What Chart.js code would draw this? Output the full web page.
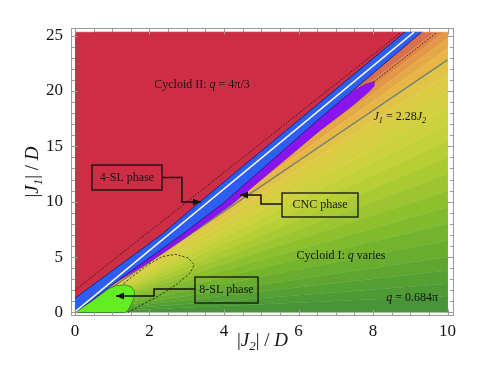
<!DOCTYPE html>
<html><head><meta charset="utf-8">
<script src="https://cdn.jsdelivr.net/npm/chart.js@4.4.1/dist/chart.umd.min.js"></script>
<style>html,body{margin:0;padding:0;background:#fff;}#wrap{width:485px;height:374px;position:relative;}</style>
</head><body><div id="wrap"><canvas id="c"></canvas></div>
<script>
// ---- data (J2/D, J1/D) ----
const xTicks = [0, 2, 4, 6, 8, 10];
const yTicks = [0, 5, 10, 15, 20, 25];
const X_MAX = 10, Y_MAX = 25.3;

const blueUpper = [[0,1.3],[2.33,7.05],[3.31,9.86],[8.85,25.3]];
const blueLower = [[0,0],[0.5,1.2],[1.2,3.0],[2.86,7.0],[3.98,9.86],[6.5,17.3],[9.3,25.3]];
const whiteLine = [[0,0.05],[9.1,25.3]];
const dottedUpper = [[0,2.0],[8.76,25.3]];
const dottedTip = [[8.03,20.85],[9.72,25.3]];
const grayLine = [[0,0],[10,22.8]];
const cncLower = [[1.05,2.61],[2.0,4.55],[3.0,6.85],[4.25,9.86],[5.42,13.17],[6.6,16.5],[7.42,18.6],[7.88,19.9],[8.04,20.5],[8.03,20.85]];
const cncUpper = [[7.8,20.6],[7.55,20.15],[7.27,19.5],[6.5,17.3],[3.98,9.86],[2.86,7.0],[1.2,3.0]];
const sl8 = [[0,0],[0.5,1.15],[0.9,2.15],[1.1,2.42],[1.35,2.5],[1.52,2.3],[1.6,1.9],[1.58,1.3],[1.5,0.65],[1.42,0.2],[1.35,0],[0,0]];
const ellipse = [[1.42,0.0],[1.8,0.7],[2.3,1.6],[2.75,2.6],[3.1,3.6],[3.2,4.3],[3.05,4.9],[2.7,5.25],[2.35,5.05],[1.95,4.3],[1.6,3.4],[1.3,2.6]];
const fanSlopes = [50, 2.62, 2.55, 2.47, 2.38, 2.28, 2.15, 2.0, 1.85, 1.7, 1.55, 1.4, 1.25, 1.1, 0.95, 0.8, 0.65, 0.5, 0.38, 0.26, 0.15, 0];
const fanColors = ['#D8704B','#DE8549','#E29846','#E5A846','#E7B647','#E1C346','#DBCB43','#D4CF40','#CCD13C','#C2D138','#B7CE35','#AACA32','#9CC530','#8EC02E','#81BA2D','#74B42D','#68AD2E','#5EA630','#55A032','#4E9A34','#489437'];

const phaseLabels = ['4-SL phase', 'CNC phase', '8-SL phase'];

// ---- layout of annotations (in data units) ----
const notes = {
  boxes: [
    {x0:0.456, x1:2.336, y0:11.06, y1:13.31},
    {x0:5.557, x1:7.597, y0:8.62, y1:10.785},
    {x0:3.221, x1:4.913, y0:0.857, y1:3.204}
  ],
  arrows: [
    [[2.336,12.18],[2.87,12.18],[2.87,9.97],[3.38,9.97]],
    [[5.557,9.79],[4.993,9.79],[4.993,10.60],[4.43,10.60]],
    [[3.221,2.12],[2.121,2.12],[2.121,1.49],[1.101,1.49]]
  ],
  labels: [
    {segs:[['Cycloid II: ','n'],['q','i'],[' = 4\u03c0/3','n']], x:3.41, y:20.53, align:'center'},
    {segs:[['J','i'],['1','s'],[' = 2.28','n'],['J','i'],['2','s']], x:8.72, y:17.64, align:'center'},
    {segs:[['Cycloid I: ','n'],['q','i'],[' varies','n']], x:7.14, y:5.10, align:'center'},
    {segs:[['q','i'],[' = 0.684\u03c0','n']], x:9.745, y:1.31, align:'right'}
  ]
};

// ---- build datasets ----
const P = pts => pts.map(([a,b]) => ({x:a, y:b}));
function poly(pts, color, border, bw){
  return {data:P(pts), backgroundColor:color, borderColor:border||color, borderWidth:bw==null?0.6:bw, fill:'shape', pointRadius:0, tension:0};
}
function line(pts, color, w, dash){
  return {data:P(pts), borderColor:color, backgroundColor:color, borderWidth:w, borderDash:dash||[], fill:false, pointRadius:0, tension:0};
}
function edgePt(s){ return s*X_MAX <= Y_MAX ? [X_MAX, s*X_MAX] : [Y_MAX/s, Y_MAX]; }

const layers = [];
fanColors.forEach((c,i) => {
  const hi = fanSlopes[i], lo = fanSlopes[i+1];
  const pts = [[0,0], edgePt(hi)];
  if (hi*X_MAX > Y_MAX && lo*X_MAX < Y_MAX) pts.push([X_MAX, Y_MAX]);
  pts.push(edgePt(lo));
  layers.push(poly(pts, c));
});
layers.push(line(grayLine, '#6F7F76', 1.3));
layers.push(poly(blueUpper.concat([[0,Y_MAX]]), '#CD2E45'));
layers.push(poly(blueUpper.concat([[blueLower[blueLower.length-1][0], Y_MAX]], blueLower.slice().reverse()), '#2D5EF2'));
layers.push(poly(cncLower.concat(cncUpper), '#8A14F0', '#6A10C0', 0.6));
layers.push(poly(sl8, '#62EE22', '#2F7A1A', 0.8));
layers.push(line(blueUpper, '#1C1F66', 0.9));
layers.push(line(blueLower, '#2A1A80', 0.9));
layers.push(line(whiteLine, '#F2F6FF', 1.6));
layers.push(line(dottedUpper, '#111', 0.8, [1.6,1.6]));
layers.push(line(dottedTip, '#111', 0.8, [1.6,1.6]));
layers.push(line(ellipse, '#111', 0.8, [2.2,1.8]));
const N = layers.length;
layers.forEach((d,i) => { d.order = N - i; });

// ---- text helper ----
const SERIF = '"Liberation Serif", "Times New Roman", serif';
function drawRich(ctx, segs, cx, cy, size, align){
  const fontFor = st => (st === 'n' ? '' : 'italic ') + (st === 's' ? size*0.68 : size) + 'px ' + SERIF;
  let w = 0;
  for (const [t,st] of segs){ ctx.font = fontFor(st); w += ctx.measureText(t).width; }
  let x = align === 'center' ? cx - w/2 : (align === 'right' ? cx - w : cx);
  ctx.textBaseline = 'middle'; ctx.textAlign = 'left';
  for (const [t,st] of segs){
    ctx.font = fontFor(st);
    ctx.fillText(t, x, cy + (st === 's' ? size*0.28 : 0));
    x += ctx.measureText(t).width;
  }
}

const deco = {
  id: 'deco',
  afterDatasetsDraw(chart){
    const {ctx, scales:{x, y}} = chart;
    const px = v => x.getPixelForValue(v), py = v => y.getPixelForValue(v);
    ctx.save();
    ctx.fillStyle = '#141414';
    ctx.strokeStyle = '#111';
    notes.boxes.forEach((b,i) => {
      ctx.lineWidth = 1.3;
      const L = px(b.x0), R = px(b.x1), T = py(b.y1), B = py(b.y0);
      ctx.strokeRect(L, T, R-L, B-T);
      drawRich(ctx, [[phaseLabels[i],'n']], (L+R)/2, (T+B)/2, 12, 'center');
    });
    notes.arrows.forEach(a => {
      ctx.lineWidth = 1.5;
      ctx.beginPath();
      a.forEach(([u,v],k) => { const X = px(u), Y = py(v); k ? ctx.lineTo(X,Y) : ctx.moveTo(X,Y); });
      ctx.stroke();
      const [u1,v1] = a[a.length-2], [u2,v2] = a[a.length-1];
      const x1 = px(u1), y1 = py(v1), x2 = px(u2), y2 = py(v2);
      const ang = Math.atan2(y2-y1, x2-x1);
      ctx.beginPath();
      ctx.moveTo(x2, y2);
      ctx.lineTo(x2 - 8*Math.cos(ang) + 3.5*Math.sin(ang), y2 - 8*Math.sin(ang) - 3.5*Math.cos(ang));
      ctx.lineTo(x2 - 8*Math.cos(ang) - 3.5*Math.sin(ang), y2 - 8*Math.sin(ang) + 3.5*Math.cos(ang));
      ctx.closePath(); ctx.fill();
    });
    notes.labels.forEach(l => drawRich(ctx, l.segs, px(l.x), py(l.y), 12, l.align));
    ctx.restore();
  },
  afterDraw(chart){
    const {ctx, chartArea:a, scales:{x, y}} = chart;
    ctx.save();
    ctx.strokeStyle = '#9A9A9A'; ctx.lineWidth = 1;
    const L = Math.round(a.left)+0.5, R = Math.round(a.right)-0.5, T = Math.round(a.top)+0.5, B = Math.round(a.bottom)-0.5;
    ctx.strokeRect(L, T, R-L, B-T);
    ctx.beginPath();
    for (let v = 0; v <= 10.001; v += 0.5){
      const X = Math.round(x.getPixelForValue(v))+0.5;
      const len = xTicks.includes(Math.round(v*10)/10) ? 6 : 3.5;
      ctx.moveTo(X, B); ctx.lineTo(X, B-len);
      ctx.moveTo(X, T); ctx.lineTo(X, T+len);
    }
    for (let v = 0; v <= 25.001; v += 1){
      const Y = Math.round(y.getPixelForValue(v))+0.5;
      const len = yTicks.includes(v) ? 6 : 3.5;
      ctx.moveTo(L, Y); ctx.lineTo(L+len, Y);
      ctx.moveTo(R, Y); ctx.lineTo(R-len, Y);
    }
    ctx.stroke();
    ctx.fillStyle = '#141414';
    const title2 = [['|','n'],['J','i'],['2','s'],['| / ','n'],['D','i']];
    const title1 = [['|','n'],['J','i'],['1','s'],['| / ','n'],['D','i']];
    drawRich(ctx, title2, (a.left+a.right)/2, a.bottom+25, 19, 'center');
    ctx.translate(33, (a.top+a.bottom)/2);
    ctx.rotate(-Math.PI/2);
    drawRich(ctx, title1, 0, 0, 19, 'center');
    ctx.restore();
  }
};

new Chart(document.getElementById('c'), {
  type: 'line',
  data: { datasets: layers },
  options: {
    responsive: true, maintainAspectRatio: false, animation: false,
    layout: { padding: { left: 0, top: 28, right: 31, bottom: 0 } },
    plugins: { legend: { display: false }, tooltip: { enabled: false } },
    elements: { line: { tension: 0 } },
    scales: {
      x: {
        type: 'linear', min: -0.107, max: 10.174,
        grid: { display: false, drawTicks: false }, border: { display: false },
        afterBuildTicks: s => { s.ticks = xTicks.map(v => ({value: v})); },
        afterFit: s => { s.height = 58; },
        ticks: { padding: 5, color: '#141414', font: { family: SERIF, size: 17 }, maxRotation: 0 }
      },
      y: {
        type: 'linear', min: -0.316, max: 25.68,
        grid: { display: false, drawTicks: false }, border: { display: false },
        afterBuildTicks: s => { s.ticks = yTicks.map(v => ({value: v})); },
        afterFit: s => { s.width = 71; },
        ticks: { padding: 8, color: '#141414', font: { family: SERIF, size: 17 } }
      }
    }
  },
  plugins: [deco]
});
</script></body></html>
